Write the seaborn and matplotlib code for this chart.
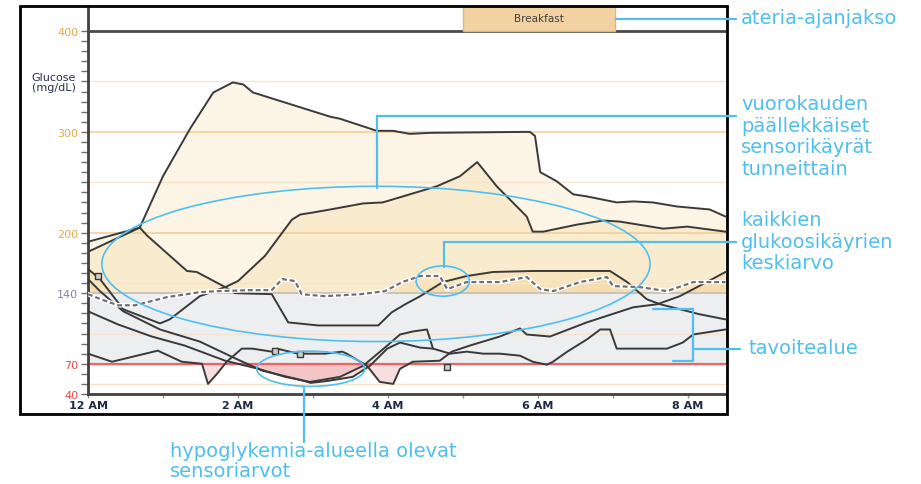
import matplotlib
matplotlib.use("Agg")
import numpy as np
import pandas as pd
import seaborn as sns
from matplotlib import pyplot as plt
from matplotlib.patches import Rectangle, Ellipse
from matplotlib.lines import Line2D

# sensor traces: hours after midnight, glucose mg/dL
a_hours = [0, 0.69, 1.0, 1.36, 1.67, 1.93, 2.07, 2.2, 2.33, 3.23, 3.36, 3.85, 4.07, 4.29, 4.56,
           5.89, 5.96, 6.03, 6.25, 6.47, 6.65, 7.05, 7.27, 7.53, 7.85, 8.29, 8.5]
a_glucose = [191, 205, 256, 303, 339, 349, 347, 339, 336, 315, 313, 301, 301, 298, 299,
             300, 296, 260, 251, 238, 236, 230, 231, 230, 226, 223, 216]

b_hours = [0, 0.16, 0.47, 0.96, 1.09, 1.49, 1.83, 2.0, 2.36, 2.72, 2.83, 3.0, 3.23, 3.67, 3.93,
           4.65, 4.96, 5.19, 5.45, 5.85, 5.93, 6.07, 6.52, 6.87, 7.09, 7.67, 7.99, 8.5]
b_glucose = [164, 154, 124, 110, 114, 137, 146, 152, 177, 213, 218, 220, 223, 229, 230,
             246, 256, 270, 246, 216, 201, 201, 208, 212, 211, 204, 206, 201]

c_hours = [0, 0.4, 0.85, 1.29, 1.83, 2.27, 2.63, 2.96, 3.36, 3.67, 3.99, 4.16, 4.33, 4.52, 4.6,
           4.83, 5.05, 5.27, 5.49, 5.76, 5.93, 6.12, 6.2, 6.39, 6.65, 6.83, 6.96, 7.05, 7.72,
           7.93, 8.07, 8.5]
c_glucose = [122, 109, 97, 88, 73, 65, 57, 52, 57, 68, 88, 99, 102, 104, 85,
             80, 82, 80, 80, 78, 72, 69, 72, 82, 94, 104, 104, 85, 85,
             91, 99, 104]

d_hours = [0, 0.69, 0.79, 1.32, 1.45, 1.83, 1.96, 2.45, 2.67, 3.07, 3.87, 4.05, 4.23, 4.43,
           4.73, 5.05, 5.4, 5.93, 6.96, 7.19, 7.45, 7.63, 8.16, 8.5]
d_glucose = [181, 205, 197, 162, 161, 146, 140, 139, 111, 108, 108, 121, 129, 137,
             151, 157, 161, 162, 162, 151, 134, 129, 119, 114]

e_hours = [0, 0.32, 0.93, 1.25, 1.52, 1.6, 1.72, 1.85, 2.05, 2.19, 2.45, 2.52, 2.8, 3.16, 3.39,
           3.45, 3.72, 3.89, 4.07, 4.16, 4.33, 4.69, 4.85, 5.09, 5.49, 5.76, 5.85, 6.16, 6.65,
           7.27, 7.59, 7.89, 8.25, 8.5]
e_glucose = [80, 72, 83, 72, 70, 50, 60, 72, 85, 85, 82, 85, 80, 80, 82,
             80, 68, 52, 50, 65, 72, 73, 82, 88, 97, 105, 99, 97, 111,
             126, 129, 137, 151, 161]

g_hours = [0, 0.16, 0.47, 0.96, 1.49, 2.03, 2.33, 2.83, 2.97, 3.2, 3.53, 3.76, 3.99, 4.16, 4.43, 4.6]
g_glucose = [154, 142, 122, 104, 92, 73, 63, 54, 51, 53, 57, 68, 85, 91, 86, 85]

avg_hours = [0, 0.17, 0.4, 0.63, 1.05, 1.49, 1.73, 2.15, 2.45, 2.59, 2.76, 2.85, 3.16, 3.63, 3.96,
             4.19, 4.43, 4.69, 4.79, 5.05, 5.49, 5.85, 6.03, 6.2, 6.56, 6.92, 7.0, 7.36, 7.72,
             8.07, 8.5]
avg_glucose = [139, 134, 128, 128, 136, 141, 142, 143, 143, 154, 152, 139, 137, 139, 142,
               151, 157, 157, 144, 151, 151, 156, 144, 142, 151, 156, 147, 146, 142,
               151, 151]

marker_hours = [0.13, 2.49, 2.83, 4.79]
marker_glucose = [157, 83, 80, 67]

meal_name = "Breakfast"
meal_start, meal_end = 5.0, 7.03

y_ticks = [40, 70, 140, 200, 300, 400]
y_tick_colors = ["#F04848", "#F04848", "#8484B4", "#E8A848", "#E8A848", "#E8A848"]
x_labels = ["12 AM", "", "2 AM", "", "4 AM", "", "6 AM", "", "8 AM"]

low, high = 70, 140

traces = {"a": (a_hours, a_glucose), "b": (b_hours, b_glucose), "c": (c_hours, c_glucose),
          "d": (d_hours, d_glucose), "e": (e_hours, e_glucose), "g": (g_hours, g_glucose)}
df = pd.concat([pd.DataFrame({"hour": h, "glucose": v, "day": k}) for k, (h, v) in traces.items()])

sns.set_theme(style="white")
plt.rcParams["font.family"] = ["DejaVu Sans"]

W, H = 921, 485
fig = plt.figure(figsize=(W / 100, H / 100), dpi=100)


def fx(x, y):
    return x / W, 1 - y / H


ax = fig.add_axes([88 / W, 1 - 395 / H, (726 - 88) / W, (395 - 7) / H])
ax.set_xlim(0, 8.507)
ax.set_ylim(40, 424.8)

# target range and grid
ax.axhspan(low, high, color="#EDEEF0", zorder=0)
for v in [50, 100, 150, 250, 350]:
    ax.axhline(v, color="#F6E4CE", lw=1, zorder=1.5)
for v in [200, 300]:
    ax.axhline(v, color="#F3CD98", lw=1.2, zorder=1.5)

# stacked tan fills above the range, pink fills below
for k, (h, v) in traces.items():
    h, v = np.array(h), np.array(v)
    ax.fill_between(h, high, v, where=v >= high, interpolate=True, color="#F0C064", alpha=0.17, lw=0, zorder=1)
    ax.fill_between(h, v, low, where=v <= low, interpolate=True, color="#E07070", alpha=0.22, lw=0, zorder=1)
ah, av = np.array(avg_hours), np.array(avg_glucose)
ax.fill_between(ah, high, av, where=av >= high, interpolate=True, color="#F0C064", alpha=0.17, lw=0, zorder=1)

ax.axhline(high, color="#C9C0AE", lw=1.3, zorder=2)
ax.axhline(low, color="#F26262", lw=1.6, zorder=2)
ax.axhline(400, color="#4A4A4A", lw=2, zorder=4)

sns.lineplot(data=df, x="hour", y="glucose", units="day", estimator=None, sort=False,
             color="#3A3A3A", lw=1.4, ax=ax, zorder=3, legend=False)
ax.plot(avg_hours, avg_glucose, color="white", lw=3.2, zorder=3.2)
ax.plot(avg_hours, avg_glucose, color="#707070", lw=1.6, dashes=(2.2, 1.3), zorder=3.3)
ax.scatter(marker_hours, marker_glucose, marker="s", s=14, facecolor="#CFCFCF",
           edgecolor="#3A3A3A", lw=1, zorder=3.5)

# meal band
ax.add_patch(Rectangle((meal_start, 400), meal_end - meal_start, 24.8, facecolor="#F2D2A2",
                       edgecolor="#E6B574", lw=1, zorder=4, clip_on=False))
ax.text((meal_start + meal_end) / 2, 412.5, meal_name, ha="center", va="center",
        fontsize=7.5, color="#404040", zorder=5)

ax.set_xlabel("")
ax.set_ylabel("")
ax.set_xticks(range(9))
ax.set_xticklabels(x_labels, fontsize=8, fontweight="bold", color="#1F2A44")
ax.set_yticks(y_ticks)
ax.set_yticklabels([str(t) for t in y_ticks], fontsize=8)
for lbl, c in zip(ax.get_yticklabels(), y_tick_colors):
    lbl.set_color(c)
ax.set_yticks(range(40, 401, 10), minor=True)
ax.tick_params(axis="y", which="both", direction="out", length=5, width=1, color="#707070", left=True, pad=2)
ax.tick_params(axis="x", which="major", direction="out", length=3, width=1, color="#909090", bottom=True, pad=1)
for side in ["top", "right"]:
    ax.spines[side].set_visible(False)
ax.spines["left"].set_color("#404040")
ax.spines["left"].set_linewidth(2)
ax.spines["bottom"].set_color("#404040")
ax.spines["bottom"].set_linewidth(2)
ax.grid(False)

fig.text(*fx(76, 83), "Glucose\n(mg/dL)", ha="right", va="center", fontsize=8,
         color="#2A3050", linespacing=1.0)

# outer frame
x0, y0 = fx(20, 415)
x1, y1 = fx(727, 7)
fig.add_artist(Rectangle((x0, y0), x1 - x0, y1 - y0, transform=fig.transFigure,
                         fill=False, edgecolor="black", lw=2, zorder=10))

# annotations
blue = "#4FBFF0"
ax.add_patch(Ellipse((3.84, 169), 7.31, 154, fill=False, edgecolor=blue, lw=1.2, zorder=6, clip_on=False))
ax.add_patch(Ellipse((4.73, 152), 0.71, 30, fill=False, edgecolor=blue, lw=1.2, zorder=6))
ax.add_patch(Ellipse((2.97, 65), 1.44, 35, fill=False, edgecolor=blue, lw=1.2, zorder=6))

segments = [
    [(616, 20), (736, 20)],
    [(377, 117), (736, 117)], [(377, 117), (377, 189)],
    [(444, 243), (736, 243)], [(444, 243), (444, 268)],
    [(653, 310), (693, 310)], [(693, 310), (693, 362)], [(673, 362), (693, 362)], [(693, 350), (740, 350)],
    [(304, 388), (304, 443)],
]
for seg in segments:
    xs, ys = zip(*[fx(*p) for p in seg])
    fig.add_artist(Line2D(xs, ys, transform=fig.transFigure, color=blue, lw=1.6, zorder=11))

txt = dict(color=blue, fontsize=14, ha="left", va="top", linespacing=1.17)
fig.text(*fx(741, 9), "ateria-ajanjakso", **txt)
fig.text(*fx(741, 95), "vuorokauden\npäällekkäiset\nsensorikäyrät\ntunneittain", **txt)
fig.text(*fx(741, 211), "kaikkien\nglukoosikäyrien\nkeskiarvo", **txt)
fig.text(*fx(748, 339), "tavoitealue", **txt)
fig.text(*fx(170, 442), "hypoglykemia-alueella olevat\nsensoriarvot", **dict(txt, linespacing=1.08))

fig.savefig("out.png", dpi=100)
